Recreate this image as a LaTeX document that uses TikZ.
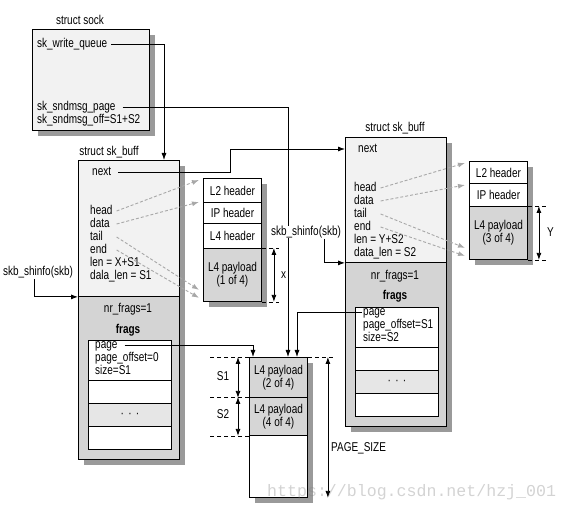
\documentclass[tikz,border=0pt]{standalone}
\usepackage{fontspec}
\setmainfont{Liberation Sans}[FakeStretch=0.78]
\newfontfamily\wmfont{Liberation Mono}
\usetikzlibrary{arrows.meta,calc,shadows}
\definecolor{skbl}{HTML}{F2F2F2}
\definecolor{skbd}{HTML}{D4D4D4}
\definecolor{payc}{HTML}{D6D6D6}
\definecolor{dotc}{HTML}{E6E6E6}
\definecolor{shdc}{HTML}{9A9A9A}
\definecolor{ptrc}{HTML}{A8A8A8}
\begin{document}
\begin{tikzpicture}[x=1pt,y=-1pt,
  every node/.style={font=\fontsize{12.8}{13}\selectfont},
  bx/.style={draw, line width=0.9pt, inner sep=0pt, anchor=north west, align=center},
  shd/.style={drop shadow={shadow xshift=6pt, shadow yshift=-6pt, fill=shdc, opacity=1}},
  lbl/.style={inner sep=1pt, text height=9pt, text depth=2.6pt, anchor=west},
  ctr/.style={inner sep=1pt, text height=9pt, text depth=2.6pt, anchor=center},
  conn/.style={line width=0.8pt, -{Latex[length=7pt,width=5pt]}},
  ptr/.style={ptrc, line width=0.9pt, dash pattern=on 3pt off 2pt, -{Latex[length=7pt,width=5pt]}},
  dimd/.style={line width=0.7pt, dash pattern=on 4pt off 3pt},
  dima/.style={line width=0.8pt, {Latex[length=7pt,width=5pt]}-{Latex[length=7pt,width=5pt]}}]
\useasboundingbox (0,0) rectangle (571,513);

% ---- struct sock
\node[ctr] (tsock) at (80,21) {struct sock};
\node[bx, shd, fill=skbl, minimum width=117pt, minimum height=101pt] (sock) at (32,29) {};
\node[lbl] (swq) at (36,44) {sk\_write\_queue};
\node[lbl] (ssp) at (36,107) {sk\_sndmsg\_page};
\node[lbl] (sso) at (36,120) {sk\_sndmsg\_off=S1+S2};

% ---- left sk_buff
\node[ctr] (tlskb) at (109,152) {struct sk\_buff};
\node[bx, shd, fill=skbd, minimum width=101pt, minimum height=299pt] (lskb) at (78,160) {};
\node[bx, fill=skbl, minimum width=101pt, minimum height=136pt] (lskbtop) at (78,160) {};
\node[lbl] (lnext) at (91,172) {next};
\node[lbl] (lhead) at (89,211) {head};
\node[lbl] (ldata) at (89,224) {data};
\node[lbl] (ltail) at (89,237) {tail};
\node[lbl] (lend) at (89,250) {end};
\node[lbl] (llen) at (89,263) {len = X+S1};
\node[lbl] (ldlen) at (89,276) {dala\_len = S1};
\node[ctr] (lnr) at (128,309) {nr\_frags=1};
\node[ctr, font=\fontsize{12.8}{13}\selectfont\bfseries] (lfr) at (128,330) {frags};
\node[bx, fill=white, minimum width=83pt, minimum height=40pt] (lf1) at (88,340) {};
\node[bx, fill=white, minimum width=83pt, minimum height=23pt] (lf2) at (88,380) {};
\node[bx, fill=dotc, minimum width=83pt, minimum height=23pt] (lf3) at (88,403) {·\,\,·\,\,·};
\node[bx, fill=white, minimum width=83pt, minimum height=23pt] (lf4) at (88,426) {};
\node[lbl] (lpage) at (94,345) {page};
\node[lbl] (lpoff) at (94,358) {page\_offset=0};
\node[lbl] (lsize) at (94,371) {size=S1};
\node[ctr] (lshin) at (38,272) {skb\_shinfo(skb)};

% ---- left headers
\node[bx, shd, fill=white, minimum width=58pt, minimum height=123pt] (lhcol) at (203,178) {};
\node[bx, fill=white, minimum width=58pt, minimum height=24pt] (lL2) at (203,178) {L2 header};
\node[bx, fill=white, minimum width=58pt, minimum height=21pt] (lIP) at (203,202) {IP header};
\node[bx, fill=white, minimum width=58pt, minimum height=25pt] (lL4) at (203,223) {L4 header};
\node[bx, fill=payc, minimum width=58pt, minimum height=53pt] (lpay) at (203,248) {L4 payload\\(1 of 4)};
\draw[dimd] (lpay.north east) -- ++(17,0);
\draw[dimd] (lpay.south east) -- ++(17,0);
\draw[dima] ($(lpay.north east)+(12,0)$) -- ($(lpay.south east)+(12,0)$);
\node[lbl] (xl) at ($(lpay.east)+(18,0)$) {x};

% ---- page
\node[bx, shd, fill=white, minimum width=58pt, minimum height=140pt] (pgcol) at (249,357) {};
\node[bx, fill=payc, minimum width=58pt, minimum height=40pt] (pg1) at (249,357) {L4 payload\\(2 of 4)};
\node[bx, fill=payc, minimum width=58pt, minimum height=38pt] (pg2) at (249,397) {L4 payload\\(4 of 4)};
\node[bx, fill=white, minimum width=58pt, minimum height=62pt] (pg3) at (249,435) {};
\draw[dimd] (pg1.north west) -- ++(-39,0);
\draw[dimd] (pg1.north east) -- ++(25,0);
\draw[dimd] (pg2.north west) -- ++(-39,0);
\draw[dimd] (pg2.south west) -- ++(-39,0);
\draw[dima] ($(pg1.north west)+(-11,0)$) -- ($(pg1.south west)+(-11,0)$);
\draw[dima] ($(pg2.north west)+(-11,0)$) -- ($(pg2.south west)+(-11,0)$);
\draw[dima] ($(pg1.north east)+(20,0)$) -- ($(pg3.south east)+(20,0)$);
\node[ctr] (s1) at (223,377) {S1};
\node[ctr] (s2) at (223,415) {S2};
\node[lbl] (psz) at (330,448) {PAGE\_SIZE};

% ---- right sk_buff
\node[ctr] (trskb) at (395,128) {struct sk\_buff};
\node[bx, shd, fill=skbd, minimum width=101pt, minimum height=289pt] (rskb) at (345,137) {};
\node[bx, fill=skbl, minimum width=101pt, minimum height=125pt] (rskbtop) at (345,137) {};
\node[lbl] (rnext) at (357,149) {next};
\node[lbl] (rhead) at (353,188) {head};
\node[lbl] (rdata) at (353,201) {data};
\node[lbl] (rtail) at (353,214) {tail};
\node[lbl] (rend) at (353,227) {end};
\node[lbl] (rlen) at (353,240) {len = Y+S2};
\node[lbl] (rdlen) at (353,253) {data\_len = S2};
\node[ctr] (rnr) at (395,276) {nr\_frags=1};
\node[ctr, font=\fontsize{12.8}{13}\selectfont\bfseries] (rfr) at (395,296) {frags};
\node[bx, fill=white, minimum width=83pt, minimum height=40pt] (rf1) at (355,307) {};
\node[bx, fill=white, minimum width=83pt, minimum height=23pt] (rf2) at (355,347) {};
\node[bx, fill=dotc, minimum width=83pt, minimum height=23pt] (rf3) at (355,370) {·\,\,·\,\,·};
\node[bx, fill=white, minimum width=83pt, minimum height=23pt] (rf4) at (355,393) {};
\node[lbl] (rpage) at (362,312) {page};
\node[lbl] (rpoff) at (362,325) {page\_offset=S1};
\node[lbl] (rsize) at (362,338) {size=S2};
\node[ctr, fill=white] (mshin) at (306,232) {skb\_shinfo(skb)};

% ---- right headers
\node[bx, shd, fill=white, minimum width=58pt, minimum height=98pt] (rhcol) at (469,161) {};
\node[bx, fill=white, minimum width=58pt, minimum height=22pt] (rL2) at (469,161) {L2 header};
\node[bx, fill=white, minimum width=58pt, minimum height=23pt] (rIP) at (469,183) {IP header};
\node[bx, fill=payc, minimum width=58pt, minimum height=53pt] (rpay) at (469,206) {L4 payload\\(3 of 4)};
\draw[dimd] (rpay.north east) -- ++(18,0);
\draw[dimd] (rpay.south east) -- ++(18,0);
\draw[dima] ($(rpay.north east)+(11,0)$) -- ($(rpay.south east)+(11,0)$);
\node[lbl] (yl) at ($(rpay.east)+(18,0)$) {Y};

% ---- connectors
\coordinate (nb) at (230,149);
\draw[conn] ([xshift=3pt]swq.east) -| ($(lskb.north west)+(86,0)$);
\draw[conn] ([xshift=6pt]ssp.east) -| ($(pg1.north west)+(39,0)$);
\draw[conn] ([xshift=6pt]lnext.east) -| (nb) -- (rskb.west |- nb);
\draw[conn] ([xshift=-4pt]lshin.south) |- (lskbtop.south west);
\draw[conn] ([xshift=18pt]mshin.south) |- (rskbtop.south west);
\draw[conn] ([xshift=6pt]lpage.east) -| ($(pg1.north west)+(4,0)$);
\draw[conn] (rpage.west) -| ($(pg1.north west)+(48,0)$);
\node[ctr, fill=white, inner sep=0pt] at (mshin) {skb\_shinfo(skb)};

% ---- pointer arrows
\draw[ptr] ([xshift=3pt]lhead.east) -- ($(lL2.north west)+(-4,2)$);
\draw[ptr] ([xshift=3pt]lhead.east |- ldata.east) -- ($(lIP.north west)+(-4,0)$);
\draw[ptr] ([xshift=3pt]lhead.east |- ltail.east) -- ($(lpay.south west)+(-4,-12)$);
\draw[ptr] ([xshift=3pt]lhead.east |- lend.east) -- ($(lpay.south west)+(-4,-4)$);
\draw[ptr] ([xshift=3pt]rhead.east) -- ($(rL2.north west)+(-4,2)$);
\draw[ptr] ([xshift=3pt]rhead.east |- rdata.east) -- ($(rIP.north west)+(-4,2)$);
\draw[ptr] ([xshift=3pt]rhead.east |- rtail.east) -- ($(rpay.south west)+(-4,-12)$);
\draw[ptr] ([xshift=3pt]rhead.east |- rend.east) -- ($(rpay.south west)+(-4,-4)$);

% watermark
\node[anchor=west, text=gray, text opacity=0.35, inner sep=0pt, font=\fontsize{16.6}{18}\selectfont\wmfont] (wm) at (267,492) {https://blog.csdn.net/hzj\_001};
\end{tikzpicture}
\end{document}
